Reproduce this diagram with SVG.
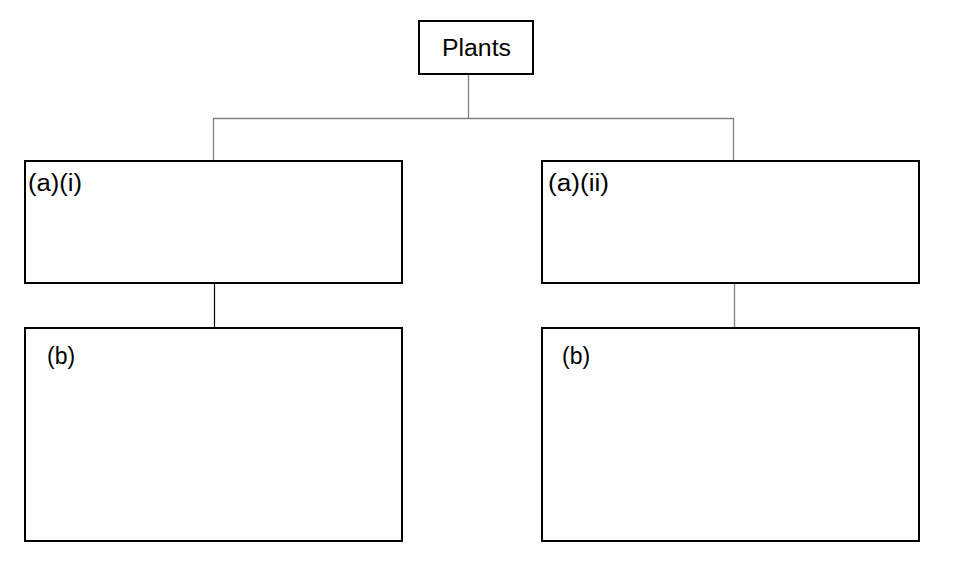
<svg xmlns="http://www.w3.org/2000/svg" width="960" height="580" viewBox="0 0 960 580">
<style>
.box{fill:#fff;stroke:#000;stroke-width:2}
.lbl{font-family:"Liberation Sans",Arial,sans-serif;font-size:23px;fill:#000}
.conn{stroke:#808080;stroke-width:1.3;fill:none}
.connd{stroke:#000;stroke-width:1.2;fill:none}
</style>
<rect width="960" height="580" fill="#fff"/>
<g id="connectors">
<path class="conn" d="M468.5 75 V118.5 M213.5 161 V118.5 H733.5 V161"/>
<path class="connd" d="M214.5 283 V328"/>
<path class="conn" d="M734.5 283 V328"/>
</g>
<g id="plants">
<rect class="box" x="419" y="21" width="114" height="53"/>
<text class="lbl" x="442" y="56" textLength="69" lengthAdjust="spacingAndGlyphs">Plants</text>
</g>
<g id="ai">
<rect class="box" x="25" y="161" width="377" height="122"/>
<text class="lbl" x="28" y="191" textLength="54" lengthAdjust="spacingAndGlyphs">(a)(i)</text>
</g>
<g id="aii">
<rect class="box" x="542" y="161" width="377" height="122"/>
<text class="lbl" x="548" y="191" textLength="61" lengthAdjust="spacingAndGlyphs">(a)(ii)</text>
</g>
<g id="b-left">
<rect class="box" x="25" y="328" width="377" height="213"/>
<text class="lbl" x="47" y="364">(b)</text>
</g>
<g id="b-right">
<rect class="box" x="542" y="328" width="377" height="213"/>
<text class="lbl" x="562" y="364">(b)</text>
</g>
</svg>
